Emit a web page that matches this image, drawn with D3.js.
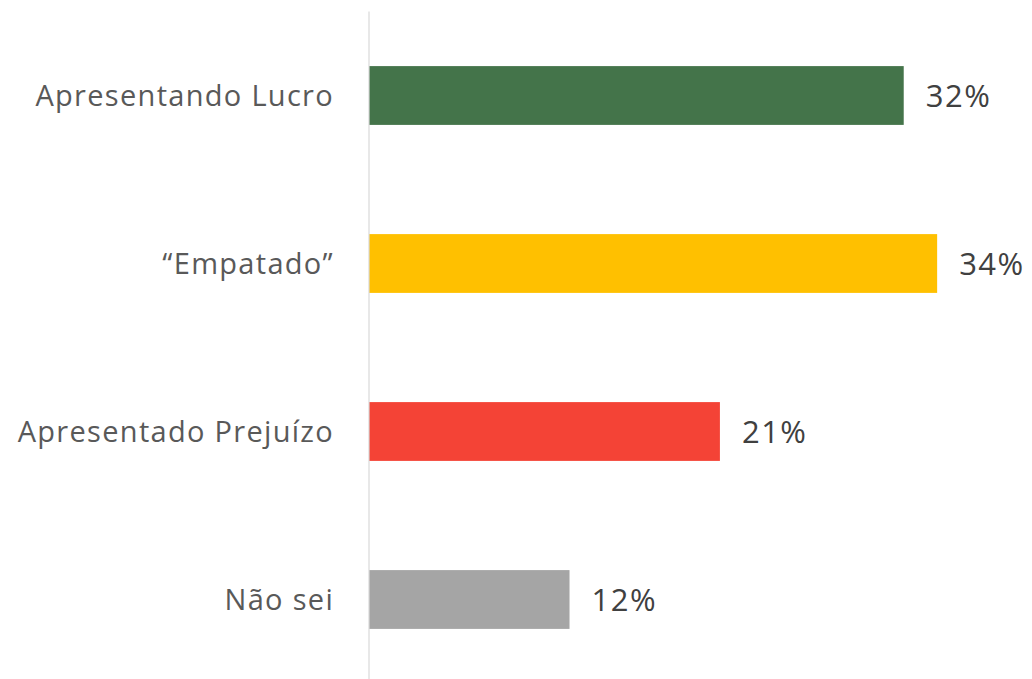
<!doctype html>
<html>
<head>
<meta charset="utf-8">
<title>Resultado</title>
<style>
  body { margin: 0; background: #fff; }
  text { font-family: "Open Sans", sans-serif; fill: #595959; }
</style>
</head>
<body>
<div id="chart"></div>
<script src="https://d3js.org/d3.v7.min.js"></script>
<script>
// data
var categories = ["Apresentando Lucro", "\u201cEmpatado\u201d", "Apresentado Prejuízo", "Não sei"];
var values = [32, 34, 21, 12];
var valueLabels = ["32%", "34%", "21%", "12%"];
var colors = ["#44744A", "#FFC000", "#F44336", "#A5A5A5"];

var width = 1032, height = 679;
var margin = {top: 11.5, left: 369};

var svg = d3.select("#chart").append("svg")
    .attr("width", width)
    .attr("height", height);

var x = d3.scaleLinear()
    .domain([0, 10])
    .range([margin.left, margin.left + 167.1]);

var y = d3.scaleBand()
    .domain(categories)
    .range([margin.top, margin.top + 672])
    .paddingInner(0.65)
    .paddingOuter(0.325);

// bars
svg.selectAll("rect.bar")
    .data(values)
    .enter()
    .append("rect")
    .attr("class", "bar")
    .attr("x", x(0))
    .attr("y", function (d, i) { return y(categories[i]); })
    .attr("width", function (d) { return x(d) - x(0); })
    .attr("height", y.bandwidth())
    .attr("fill", function (d, i) { return colors[i]; });

// vertical axis line
svg.append("line")
    .attr("x1", x(0)).attr("x2", x(0))
    .attr("y1", margin.top).attr("y2", height)
    .attr("stroke", "#d9d9d9")
    .attr("stroke-width", 1.2);

// category labels
svg.selectAll("text.cat")
    .data(categories)
    .enter()
    .append("text")
    .attr("class", "cat")
    .attr("x", x(0) - 35)
    .attr("y", function (d) { return y(d) + y.bandwidth() / 2; })
    .attr("dy", "0.36em")
    .attr("text-anchor", "end")
    .style("font-size", "29px")
    .style("letter-spacing", "1.3px")
    .text(function (d) { return d; });

// value labels
svg.selectAll("text.val")
    .data(values)
    .enter()
    .append("text")
    .attr("class", "val")
    .attr("x", function (d) { return x(d) + 22; })
    .attr("y", function (d, i) { return y(categories[i]) + y.bandwidth() / 2; })
    .attr("dy", "0.36em")
    .style("font-size", "31px")
    .style("letter-spacing", "1.5px")
    .style("fill", "#404040")
    .text(function (d, i) { return valueLabels[i]; });
</script>
</body>
</html>
